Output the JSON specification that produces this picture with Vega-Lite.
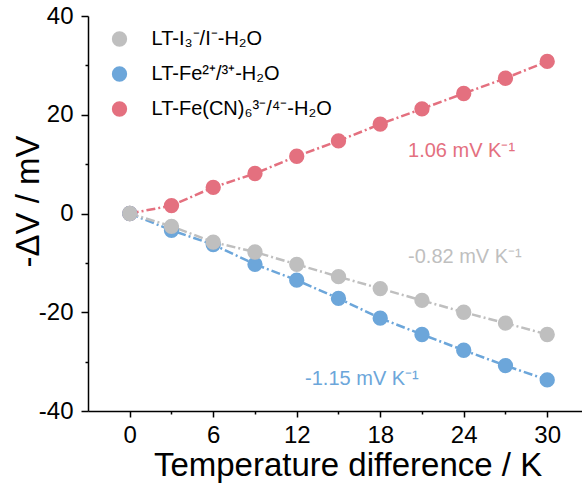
{
  "$schema": "https://vega.github.io/schema/vega-lite/v6.json",
  "width": 494,
  "height": 395,
  "autosize": {"type": "none"},
  "padding": {"left": 88, "top": 16, "right": 0, "bottom": 75},
  "background": "white",
  "config": {
    "view": {"stroke": null},
    "font": "Liberation Sans",
    "axis": {
      "grid": false,
      "domainColor": "black",
      "domainWidth": 1.5,
      "tickColor": "black",
      "tickWidth": 1.5,
      "labelColor": "black",
      "titleColor": "black",
      "labelFont": "Liberation Sans",
      "titleFont": "Liberation Sans",
      "labelFontSize": 24,
      "titleFontSize": 33,
      "titleFontWeight": "normal"
    }
  },
  "datasets": {
    "pts": [
      {"T": 0, "V": 0, "s": "LT-Fe(CN)₆³⁻/⁴⁻-H₂O"},
      {"T": 3, "V": 1.6, "s": "LT-Fe(CN)₆³⁻/⁴⁻-H₂O"},
      {"T": 6, "V": 5.3, "s": "LT-Fe(CN)₆³⁻/⁴⁻-H₂O"},
      {"T": 9, "V": 8.1, "s": "LT-Fe(CN)₆³⁻/⁴⁻-H₂O"},
      {"T": 12, "V": 11.6, "s": "LT-Fe(CN)₆³⁻/⁴⁻-H₂O"},
      {"T": 15, "V": 14.7, "s": "LT-Fe(CN)₆³⁻/⁴⁻-H₂O"},
      {"T": 18, "V": 18.1, "s": "LT-Fe(CN)₆³⁻/⁴⁻-H₂O"},
      {"T": 21, "V": 21.2, "s": "LT-Fe(CN)₆³⁻/⁴⁻-H₂O"},
      {"T": 24, "V": 24.3, "s": "LT-Fe(CN)₆³⁻/⁴⁻-H₂O"},
      {"T": 27, "V": 27.4, "s": "LT-Fe(CN)₆³⁻/⁴⁻-H₂O"},
      {"T": 30, "V": 30.8, "s": "LT-Fe(CN)₆³⁻/⁴⁻-H₂O"},
      {"T": 0, "V": 0, "s": "LT-Fe²⁺/³⁺-H₂O"},
      {"T": 3, "V": -3.4, "s": "LT-Fe²⁺/³⁺-H₂O"},
      {"T": 6, "V": -6.3, "s": "LT-Fe²⁺/³⁺-H₂O"},
      {"T": 9, "V": -10.3, "s": "LT-Fe²⁺/³⁺-H₂O"},
      {"T": 12, "V": -13.5, "s": "LT-Fe²⁺/³⁺-H₂O"},
      {"T": 15, "V": -17.2, "s": "LT-Fe²⁺/³⁺-H₂O"},
      {"T": 18, "V": -21.2, "s": "LT-Fe²⁺/³⁺-H₂O"},
      {"T": 21, "V": -24.5, "s": "LT-Fe²⁺/³⁺-H₂O"},
      {"T": 24, "V": -27.7, "s": "LT-Fe²⁺/³⁺-H₂O"},
      {"T": 27, "V": -30.8, "s": "LT-Fe²⁺/³⁺-H₂O"},
      {"T": 30, "V": -33.7, "s": "LT-Fe²⁺/³⁺-H₂O"},
      {"T": 0, "V": 0, "s": "LT-I₃⁻/I⁻-H₂O"},
      {"T": 3, "V": -2.6, "s": "LT-I₃⁻/I⁻-H₂O"},
      {"T": 6, "V": -5.8, "s": "LT-I₃⁻/I⁻-H₂O"},
      {"T": 9, "V": -7.8, "s": "LT-I₃⁻/I⁻-H₂O"},
      {"T": 12, "V": -10.3, "s": "LT-I₃⁻/I⁻-H₂O"},
      {"T": 15, "V": -12.8, "s": "LT-I₃⁻/I⁻-H₂O"},
      {"T": 18, "V": -15.2, "s": "LT-I₃⁻/I⁻-H₂O"},
      {"T": 21, "V": -17.6, "s": "LT-I₃⁻/I⁻-H₂O"},
      {"T": 24, "V": -20.0, "s": "LT-I₃⁻/I⁻-H₂O"},
      {"T": 27, "V": -22.2, "s": "LT-I₃⁻/I⁻-H₂O"},
      {"T": 30, "V": -24.5, "s": "LT-I₃⁻/I⁻-H₂O"}
    ],
    "notes": [
      {"T": 20, "V": 11.4, "s": "LT-Fe(CN)₆³⁻/⁴⁻-H₂O", "label": "1.06 mV K⁻¹"},
      {"T": 20, "V": -10.1, "s": "LT-I₃⁻/I⁻-H₂O", "label": "-0.82 mV K⁻¹"},
      {"T": 12.6, "V": -34.7, "s": "LT-Fe²⁺/³⁺-H₂O", "label": "-1.15 mV K⁻¹"}
    ]
  },
  "data": {"name": "pts"},
  "encoding": {
    "color": {
      "field": "s",
      "type": "nominal",
      "sort": null,
      "scale": {
        "domain": ["LT-I₃⁻/I⁻-H₂O", "LT-Fe²⁺/³⁺-H₂O", "LT-Fe(CN)₆³⁻/⁴⁻-H₂O"],
        "range": ["#BFBFBF", "#6CA6DA", "#E4707F"]
      },
      "legend": {
        "orient": "none",
        "legendX": 21.5,
        "legendY": 13,
        "title": null,
        "padding": 0,
        "labelFontSize": 20,
        "labelFont": "Liberation Sans",
        "labelColor": "black",
        "symbolSize": 235,
        "symbolType": "circle",
        "symbolStrokeWidth": 0,
        "rowPadding": 15,
        "labelOffset": 22,
        "labelLimit": 400
      }
    }
  },
  "layer": [
    {
      "mark": {"type": "line", "strokeWidth": 2.5, "strokeDash": [9, 3, 2, 3]},
      "encoding": {
        "detail": {"field": "s"},
        "x": {
          "field": "T",
          "type": "quantitative",
          "scale": {"domain": [-3, 32.5], "nice": false, "zero": false},
          "axis": {
            "orient": "bottom",
            "values": [3, 9, 15, 21, 27],
            "labels": false,
            "domain": false,
            "tickSize": 3,
            "title": null
          }
        },
        "y": {
          "field": "V",
          "type": "quantitative",
          "scale": {"domain": [-40, 40], "nice": false, "zero": false},
          "axis": {
            "orient": "left",
            "values": [-30, -10, 10, 30],
            "labels": false,
            "domain": false,
            "tickSize": 3,
            "title": null
          }
        }
      }
    },
    {
      "mark": {"type": "circle", "size": 235, "opacity": 1},
      "encoding": {
        "x": {
          "field": "T",
          "type": "quantitative",
          "scale": {"domain": [-3, 32.5], "nice": false, "zero": false},
          "axis": {
            "orient": "bottom",
            "values": [0, 6, 12, 18, 24, 30],
            "labelExpr": "'' + datum.value",
            "tickSize": 6,
            "labelPadding": 6,
            "labelFlush": false,
            "title": "Temperature difference / K",
            "titleX": 259.5,
            "titleY": 64,
            "titleBaseline": "alphabetic",
            "titleAlign": "center",
            "titleAnchor": null
          }
        },
        "y": {
          "field": "V",
          "type": "quantitative",
          "scale": {"domain": [-40, 40], "nice": false, "zero": false},
          "axis": {
            "orient": "left",
            "values": [-40, -20, 0, 20, 40],
            "labelExpr": "'' + datum.value",
            "tickSize": 7,
            "labelPadding": 8,
            "labelFlush": false,
            "title": "-ΔV / mV",
            "titleX": -50,
            "titleY": 185,
            "titleAngle": -90,
            "titleBaseline": "alphabetic",
            "titleAlign": "center",
            "titleAnchor": null
          }
        }
      }
    },
    {
      "data": {"name": "notes"},
      "mark": {"type": "text", "align": "left", "baseline": "alphabetic", "fontSize": 20, "font": "Liberation Sans"},
      "encoding": {
        "x": {"field": "T", "type": "quantitative", "axis": null},
        "y": {"field": "V", "type": "quantitative", "axis": null},
        "text": {"field": "label"}
      }
    }
  ],
  "resolve": {"axis": {"x": "independent", "y": "independent"}}
}
